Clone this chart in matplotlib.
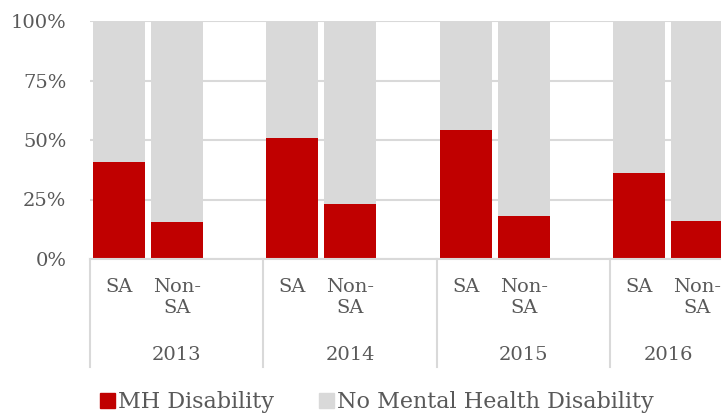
import matplotlib
matplotlib.use("Agg")
import matplotlib.pyplot as plt
from matplotlib.patches import Rectangle
from matplotlib.lines import Line2D
import matplotlib.transforms as mtrans

years = ["2013", "2014", "2015", "2016"]
groups = ["SA", "Non-\nSA"]
mh_sa = [40.6, 50.8, 54.2, 36.0]
mh_nonsa = [15.7, 23.1, 18.1, 15.8]
yticks = [0, 25, 50, 75, 100]
ytick_labels = ["0%", "25%", "50%", "75%", "100%"]
legend_labels = ["MH Disability", "No Mental Health Disability"]

RED = "#C00000"
GRAY = "#D9D9D9"
TXT = "#595959"
W, H = 721, 413

plt.rcParams["font.family"] = ["DejaVu Serif"]
fig = plt.figure(figsize=(W / 100, H / 100), dpi=100)
left, right, top, bottom = 90, 726, 21, 259
ax = fig.add_axes([left / W, (H - bottom) / H, (right - left) / W, (bottom - top) / H])

nslots = 3 * len(years) - 1
pos_sa = [3 * i for i in range(len(years))]
pos_non = [3 * i + 1 for i in range(len(years))]
pos = pos_sa + pos_non
mh = mh_sa + mh_nonsa
rest = [100 - v for v in mh]
bw = 0.9
ax.bar(pos, mh, width=bw, color=RED, zorder=2)
ax.bar(pos, rest, bottom=mh, width=bw, color=GRAY, zorder=2)

ax.set_xlim(-0.5, nslots - 0.5)
ax.set_ylim(0, 100)
ax.set_yticks(yticks)
ax.set_yticklabels(ytick_labels)
ax.tick_params(axis="y", length=0, pad=17, labelsize=14, labelcolor=TXT)
ax.set_xticks([])
for s in ["top", "right", "left"]:
    ax.spines[s].set_visible(False)
ax.spines["bottom"].set_color(GRAY)
ax.spines["bottom"].set_linewidth(1.5)
ax.grid(axis="y", color=GRAY, linewidth=1.5, zorder=0)
ax.set_axisbelow(True)

trans = mtrans.blended_transform_factory(ax.transData, fig.transFigure)
slot_px = (right - left) / nslots
x_visible_right = -0.5 + (W - left) / slot_px
for i, yr in enumerate(years):
    for j, g in enumerate(groups):
        ax.text(3 * i + j, (H - 278) / H, g, transform=trans, ha="center", va="top",
                fontsize=14, color=TXT, linespacing=1.2)
    xl = 3 * i - 0.5
    xr = min(3 * i + 2.5, x_visible_right + 0.1)
    ax.text((xl + xr) / 2, (H - 355) / H, yr, transform=trans, ha="center", va="center",
            fontsize=14, color=TXT)
for k in range(len(years)):
    xb = 3 * k - 0.5
    fig.add_artist(Line2D([xb, xb], [(H - 259) / H, (H - 367) / H], transform=trans,
                          color=GRAY, linewidth=1.5))

handles = [Rectangle((0, 0), 1, 1, color=RED), Rectangle((0, 0), 1, 1, color=GRAY)]
leg = fig.legend(handles, legend_labels, loc="center left", bbox_to_anchor=(100 / W, (H - 402) / H),
                 ncol=2, frameon=False, fontsize=16, handlelength=0.68, handleheight=0.68,
                 handletextpad=0.15, columnspacing=2.0, borderpad=0, borderaxespad=0)
for t in leg.get_texts():
    t.set_color(TXT)

fig.savefig("out.png", dpi=100)
